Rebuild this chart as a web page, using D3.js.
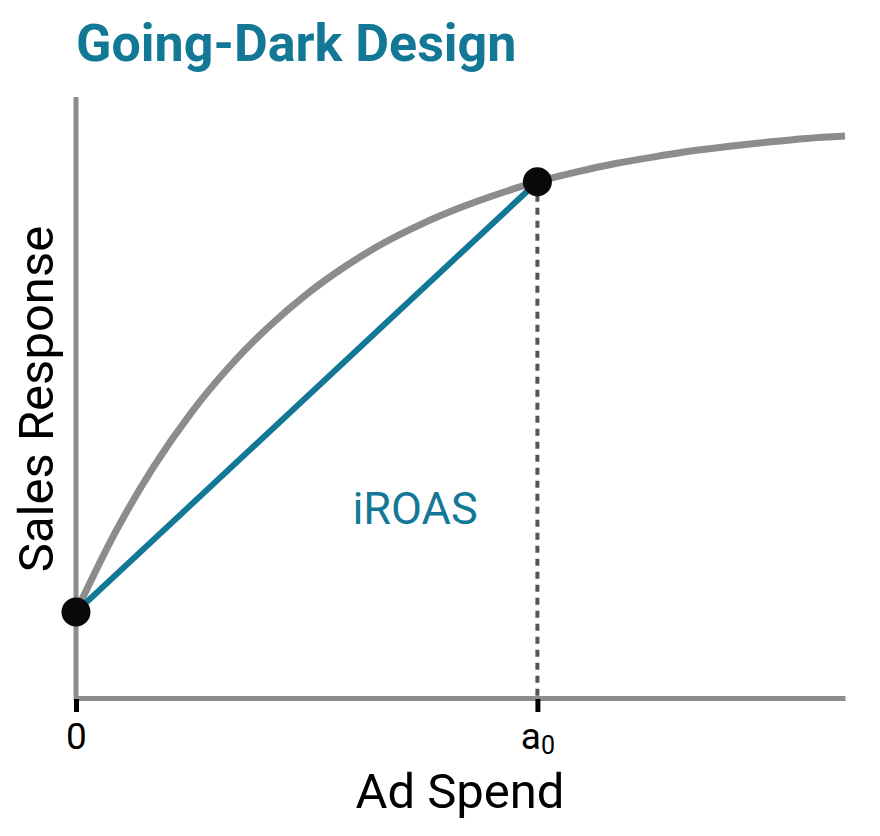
<!DOCTYPE html>
<html>
<head>
<meta charset="utf-8">
<script src="https://cdn.jsdelivr.net/npm/d3@7"></script>
<style>
  html, body { margin: 0; padding: 0; background: #fff; }
  svg { display: block; font-family: Roboto, "Noto Sans", sans-serif; }
</style>
</head>
<body>
<svg id="chart" width="880" height="836"></svg>
<script>
// Response curve (x: ad spend, y: sales response)
const curveX = [0, 0.5, 1, 1.5, 2, 2.5, 3, 3.5, 4, 4.5, 5, 5.5, 6, 6.5, 7, 7.5, 8, 8.5, 9, 9.5, 10];
const curveY = [1.43, 2.73, 3.83, 4.75, 5.52, 6.17, 6.72, 7.18, 7.57, 7.89, 8.16, 8.39, 8.59, 8.75, 8.89, 9.00, 9.10, 9.18, 9.25, 9.31, 9.35];
// Key points: going dark (spend 0) and business-as-usual spend a0
const pointX = [0, 6];
const pointY = [1.43, 8.59];
const tickValues = [0, 6];
const tickLabels = [["0", ""], ["a", "0"]];
const titleText = "Going-Dark Design";
const xTitle = "Ad Spend";
const yTitle = "Sales Response";
const lineLabel = "iROAS";

const teal = "#127896";
const gray = "#8c8c8c";

const svg = d3.select("#chart");
const x = d3.scaleLinear().domain([0, 10]).range([76, 845]);
const y = d3.scaleLinear().domain([0, 10]).range([698, 97]);

// Title
svg.append("text")
  .attr("x", 76).attr("y", 61)
  .attr("fill", teal)
  .attr("font-size", 52).attr("font-weight", 700)
  .text(titleText);

// Axes lines
svg.append("line")
  .attr("x1", x(0)).attr("x2", x(0))
  .attr("y1", y(10)).attr("y2", y(0) + 2)
  .attr("stroke", gray).attr("stroke-width", 5);

const xAxis = d3.axisBottom(x)
  .tickValues(tickValues)
  .tickSize(14).tickSizeOuter(0)
  .tickFormat(() => "");
const gx = svg.append("g").attr("transform", `translate(0,${y(0)})`).call(xAxis);
gx.select(".domain").attr("stroke", gray).attr("stroke-width", 5);
gx.selectAll(".tick line").attr("stroke", "#000").attr("stroke-width", 5).attr("y1", 1);
gx.selectAll(".tick").each(function(d, i) {
  const t = d3.select(this).append("text")
    .attr("y", 51).attr("fill", "#000")
    .attr("font-size", 37).attr("text-anchor", "middle")
    .attr("font-family", "Roboto, sans-serif");
  t.append("tspan").text(tickLabels[i][0]);
  if (tickLabels[i][1]) {
    t.append("tspan").attr("font-size", 25).attr("dy", 5).text(tickLabels[i][1]);
  }
});

// Curve
const line = d3.line()
  .x((d, i) => x(curveX[i]))
  .y((d, i) => y(curveY[i]))
  .curve(d3.curveMonotoneX);
svg.append("path")
  .datum(curveY)
  .attr("d", line)
  .attr("fill", "none")
  .attr("stroke", gray)
  .attr("stroke-width", 7);

// Dotted drop line at a0
svg.append("line")
  .attr("x1", x(pointX[1])).attr("x2", x(pointX[1]))
  .attr("y1", y(pointY[1])).attr("y2", y(0))
  .attr("stroke", "#555").attr("stroke-width", 4)
  .attr("stroke-dasharray", "7,6");

// iROAS chord
svg.append("line")
  .attr("x1", x(pointX[0])).attr("y1", y(pointY[0]))
  .attr("x2", x(pointX[1])).attr("y2", y(pointY[1]))
  .attr("stroke", teal).attr("stroke-width", 6);

// Points
svg.selectAll("circle.pt")
  .data(pointX)
  .join("circle")
  .attr("class", "pt")
  .attr("cx", d => x(d))
  .attr("cy", (d, i) => y(pointY[i]))
  .attr("r", 14.5)
  .attr("fill", "#0a0a0a");

// iROAS label
svg.append("text")
  .attr("x", 415).attr("y", 524)
  .attr("fill", teal)
  .attr("font-size", 45).attr("text-anchor", "middle")
  .text(lineLabel);

// Axis titles
svg.append("text")
  .attr("x", 460).attr("y", 808)
  .attr("font-size", 49).attr("text-anchor", "middle")
  .attr("fill", "#000")
  .text(xTitle);
svg.append("text")
  .attr("transform", "translate(53,399) rotate(-90)")
  .attr("font-size", 49).attr("text-anchor", "middle")
  .attr("fill", "#000")
  .text(yTitle);
</script>
</body>
</html>
